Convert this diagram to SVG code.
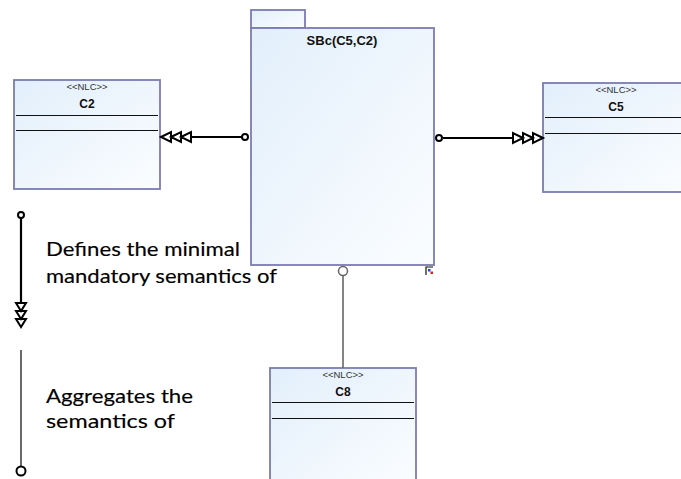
<svg xmlns="http://www.w3.org/2000/svg" width="681" height="479" viewBox="0 0 681 479">
<defs>
<linearGradient id="fill" x1="0" y1="0" x2="1" y2="1">
<stop offset="0" stop-color="#e2effb"/>
<stop offset="1" stop-color="#fbfdff"/>
</linearGradient>
<style>
.box{fill:url(#fill);stroke:#7b7bb3;stroke-width:1.8}
.div{stroke:#111;stroke-width:1.2}
.st{font-family:"Liberation Sans",Arial,sans-serif;font-size:9.5px;fill:#333;text-anchor:middle}
.nm{font-family:"Liberation Sans",Arial,sans-serif;font-size:12px;font-weight:bold;fill:#111;text-anchor:middle}
.tt{font-family:"Liberation Sans",Arial,sans-serif;font-size:13px;font-weight:bold;fill:#111;text-anchor:middle}
.lg{font-family:Lato,"Open Sans",sans-serif;font-size:20px;fill:#000;stroke:#000;stroke-width:0.15}
.ln{stroke:#000;stroke-width:2.2;fill:none}
.ah{fill:#fff;stroke:#000;stroke-width:2;stroke-linejoin:miter}
.end{fill:#fff;stroke:#000;stroke-width:2}
</style>
</defs>
<rect width="681" height="479" fill="#fff"/>

<g id="SBc">
<rect class="box" x="251" y="10" width="54" height="18"/>
<rect class="box" x="251" y="28" width="183" height="237"/>
<text class="tt" x="342" y="45">SBc(C5,C2)</text>
<path d="M426 275V267H433" fill="none" stroke="#111" stroke-width="1.2"/>
<rect x="428" y="269" width="2.5" height="2.5" fill="#2040e0"/>
<rect x="430.5" y="271.5" width="2.5" height="2.5" fill="#e02020"/>
</g>

<g id="C2">
<rect class="box" x="14" y="80" width="146" height="109"/>
<line class="div" x1="16" y1="115.5" x2="158" y2="115.5"/>
<line class="div" x1="16" y1="130.5" x2="158" y2="130.5"/>
<text class="st" x="87" y="90">&lt;&lt;NLC&gt;&gt;</text>
<text class="nm" x="87" y="108">C2</text>
</g>

<g id="C5">
<rect class="box" x="543" y="83" width="146" height="109"/>
<line class="div" x1="545" y1="117.5" x2="687" y2="117.5"/>
<line class="div" x1="545" y1="133.5" x2="687" y2="133.5"/>
<text class="st" x="616" y="93">&lt;&lt;NLC&gt;&gt;</text>
<text class="nm" x="616" y="111">C5</text>
</g>

<g id="C8">
<rect class="box" x="270" y="368" width="146" height="120"/>
<line class="div" x1="272" y1="402.5" x2="414" y2="402.5"/>
<line class="div" x1="272" y1="418.5" x2="414" y2="418.5"/>
<text class="st" x="343" y="378">&lt;&lt;NLC&gt;&gt;</text>
<text class="nm" x="343" y="396">C8</text>
</g>

<g id="connectors">
<line class="ln" x1="191" y1="137" x2="242" y2="137"/>
<path class="ah" d="M161 137L171 132V142Z M171 137L181 132V142Z M181 137L191 132V142Z"/>
<circle class="end" cx="245" cy="137" r="3"/>

<line class="ln" x1="443" y1="138" x2="512" y2="138"/>
<path class="ah" d="M543 138L533 133V143Z M533 138L523 133V143Z M523 138L513 133V143Z"/>
<circle class="end" cx="439" cy="138" r="3"/>

<line x1="343" y1="276" x2="343" y2="368" stroke="#666" stroke-width="1.6"/>
<circle cx="343" cy="271" r="4.5" fill="#fff" stroke="#666" stroke-width="1.5"/>
</g>

<g id="legend">
<line class="ln" x1="21" y1="218" x2="21" y2="303"/>
<circle class="end" cx="21" cy="215" r="3"/>
<path class="ah" d="M21 311L16 303H26Z M21 319L16 311H26Z M21 327L16 319H26Z"/>
<text class="lg" x="46" y="256" textLength="194" lengthAdjust="spacingAndGlyphs">Defines the minimal</text>
<text class="lg" x="46" y="283" textLength="231" lengthAdjust="spacingAndGlyphs">mandatory semantics of</text>

<line x1="21" y1="350" x2="21" y2="467" stroke="#444" stroke-width="1.6"/>
<circle cx="21" cy="471" r="4.5" fill="#fff" stroke="#000" stroke-width="2"/>
<text class="lg" x="46" y="403" textLength="147" lengthAdjust="spacingAndGlyphs">Aggregates the</text>
<text class="lg" x="46" y="428" textLength="129" lengthAdjust="spacingAndGlyphs">semantics of</text>
</g>
</svg>
